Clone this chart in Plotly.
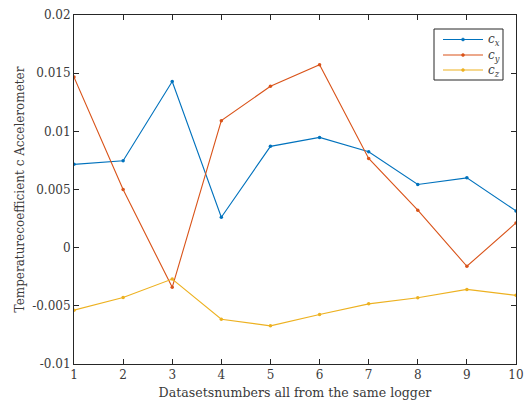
import plotly.graph_objects as go

datasets = [1, 2, 3, 4, 5, 6, 7, 8, 9, 10]
c_x = [0.00716, 0.00747, 0.01428, 0.00262, 0.00871, 0.00948, 0.00825, 0.00543, 0.00600, 0.00316]
c_y = [0.01466, 0.00500, -0.00341, 0.01092, 0.01388, 0.01572, 0.00767, 0.00322, -0.00160, 0.00213]
c_z = [-0.00537, -0.00428, -0.00270, -0.00615, -0.00672, -0.00574, -0.00483, -0.00431, -0.00359, -0.00410]

y_ticks = [-0.01, -0.005, 0, 0.005, 0.01, 0.015, 0.02]
y_tick_text = ["-0.01", "-0.005", "0", "0.005", "0.01", "0.015", "0.02"]

series_names = ["<i>c</i><sub><i>x</i></sub>", "<i>c</i><sub><i>y</i></sub>", "<i>c</i><sub><i>z</i></sub>"]
series_values = [c_x, c_y, c_z]
series_colors = ["#0072BD", "#D95319", "#EDB120"]

axis_color = "#262626"
text_color = "#3a3a3a"
font_family = "'DejaVu Serif', 'Liberation Serif', serif"

# plot area in pixels (figure is 526 x 409)
W, H = 526, 409
ML, MR, MT, MB = 74, 10, 15, 45
PW, PH = W - ML - MR, H - MT - MB


def px_x(px):
    return (px - ML) / PW


def px_y(py):
    return (H - MB - py) / PH


fig = go.Figure()
for name, vals, color in zip(series_names, series_values, series_colors):
    fig.add_trace(go.Scatter(
        x=datasets, y=vals, name=name, mode="lines+markers",
        line=dict(color=color, width=1.1),
        marker=dict(color=color, size=3.5, symbol="circle"),
        showlegend=False,
    ))

# boxed legend in the upper right corner
shapes = [dict(type="rect", xref="paper", yref="paper",
               x0=px_x(434), x1=px_x(503), y0=px_y(80), y1=px_y(29),
               line=dict(color=axis_color, width=1), fillcolor="white", layer="above")]
annotations = []
row_y = [39.5, 55, 70]
for name, color, ry in zip(series_names, series_colors, row_y):
    shapes.append(dict(type="line", xref="paper", yref="paper",
                       x0=px_x(443), x1=px_x(483), y0=px_y(ry), y1=px_y(ry),
                       line=dict(color=color, width=1.1), layer="above"))
    shapes.append(dict(type="circle", xref="paper", yref="paper",
                       x0=px_x(461.5), x1=px_x(464.5), y0=px_y(ry + 1.5), y1=px_y(ry - 1.5),
                       line=dict(color=color, width=0.5), fillcolor=color, layer="above"))
    annotations.append(dict(xref="paper", yref="paper", x=px_x(486), y=px_y(ry + 1),
                            xanchor="left", yanchor="middle", showarrow=False,
                            text=name, font=dict(family=font_family, size=12, color=text_color)))

common_axis = dict(
    showline=True, linecolor=axis_color, linewidth=1, mirror="ticks",
    ticks="inside", ticklen=5, tickcolor=axis_color, tickwidth=1,
    showgrid=False, zeroline=False, automargin=False,
    tickfont=dict(family=font_family, size=12, color=text_color),
)

fig.update_layout(
    width=W, height=H,
    margin=dict(l=ML, r=MR, t=MT, b=MB),
    plot_bgcolor="white", paper_bgcolor="white",
    font=dict(family=font_family, color=text_color),
    xaxis=dict(
        range=[1, 10], tickvals=datasets,
        title=dict(text="Datasetsnumbers all from the same logger",
                   font=dict(family=font_family, size=12.6, color=text_color), standoff=6),
        **common_axis,
    ),
    yaxis=dict(
        range=[-0.01, 0.02], tickvals=y_ticks, ticktext=y_tick_text,
        title=dict(text="Temperaturecoefficient c Accelerometer",
                   font=dict(family=font_family, size=12, color=text_color), standoff=4),
        **common_axis,
    ),
    shapes=shapes,
    annotations=annotations,
    showlegend=False,
)

fig.write_html("out.html")
